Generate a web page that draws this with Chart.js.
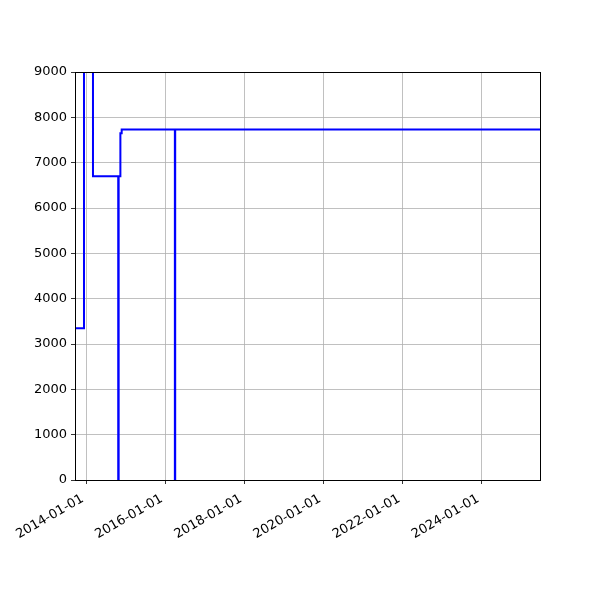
<!DOCTYPE html>
<html>
<head>
<meta charset="utf-8">
<script src="https://cdn.jsdelivr.net/npm/chart.js@4"></script>
<style>
  html, body { margin: 0; padding: 0; background: #fff; }
  #wrap { width: 600px; height: 600px; }
</style>
</head>
<body>
<div id="wrap"><canvas id="chart" width="600" height="600"></canvas></div>
<script>
// step series (value holds from its date until the next one)
const stepDates = ['2013-09-19', '2013-12-11', '2014-03-04', '2014-10-23', '2014-10-27',
                   '2014-11-12', '2014-11-24', '2016-03-29', '2016-04-01', '2025-06-21'];
const stepValues = [3350, 15000, 6700, 0, 6700, 7650, 7730, 0, 7730, 7730];

const xTickDates = ['2014-01-01', '2016-01-01', '2018-01-01', '2020-01-01', '2022-01-01', '2024-01-01'];
const yTicks = [0, 1000, 2000, 3000, 4000, 5000, 6000, 7000, 8000, 9000];

const toMs = d => Date.parse(d + 'T00:00:00Z');
const pad2 = n => String(n).padStart(2, '0');
function fmtDate(ms) {
    const d = new Date(ms);
    return d.getUTCFullYear() + '-' + pad2(d.getUTCMonth() + 1) + '-' + pad2(d.getUTCDate());
}

const points = stepDates.map((d, i) => ({ x: toMs(d), y: stepValues[i] }));

const FONT = { family: 'DejaVu Sans', size: 13 };

// matplotlib-style frame on all four sides
const framePlugin = {
    id: 'frame',
    afterDraw(chart) {
        const { ctx, chartArea: a } = chart;
        ctx.save();
        ctx.strokeStyle = '#000';
        ctx.lineWidth = 1;
        ctx.strokeRect(Math.round(a.left) + 0.5, Math.round(a.top) + 0.5,
                       Math.round(a.right - a.left), Math.round(a.bottom - a.top));
        ctx.restore();
    }
};

new Chart(document.getElementById('chart').getContext('2d'), {
    type: 'line',
    data: {
        datasets: [{
            data: points,
            borderColor: '#0000ff',
            borderWidth: 2,
            stepped: true,
            pointRadius: 0,
            fill: false
        }]
    },
    options: {
        responsive: false,
        animation: false,
        layout: { padding: { top: 72, right: 60, left: 0, bottom: 0 } },
        plugins: { legend: { display: false }, tooltip: { enabled: false } },
        scales: {
            x: {
                type: 'linear',
                min: toMs(stepDates[0]),
                max: toMs(stepDates[stepDates.length - 1]),
                afterBuildTicks: axis => { axis.ticks = xTickDates.map(d => ({ value: toMs(d) })); },
                afterFit: axis => { axis.height = 120; },
                ticks: {
                    color: '#000',
                    font: FONT,
                    minRotation: 30,
                    maxRotation: 30,
                    autoSkip: false,
                    padding: 5,
                    // trailing space nudges the rotated label down-left like matplotlib's anchor
                    callback: v => fmtDate(v) + ' '
                },
                grid: { color: '#b0b0b0', lineWidth: 0.8, tickColor: '#000', tickLength: 4 },
                border: { color: '#000', width: 1 }
            },
            y: {
                min: 0,
                max: 9000,
                afterBuildTicks: axis => { axis.ticks = yTicks.map(v => ({ value: v })); },
                afterFit: axis => { axis.width = 75; },
                ticks: { color: '#000', font: FONT, padding: 4, callback: v => String(v) },
                grid: { color: '#b0b0b0', lineWidth: 0.8, tickColor: '#000', tickLength: 4 },
                border: { color: '#000', width: 1 }
            }
        }
    },
    plugins: [framePlugin]
});
</script>
</body>
</html>
